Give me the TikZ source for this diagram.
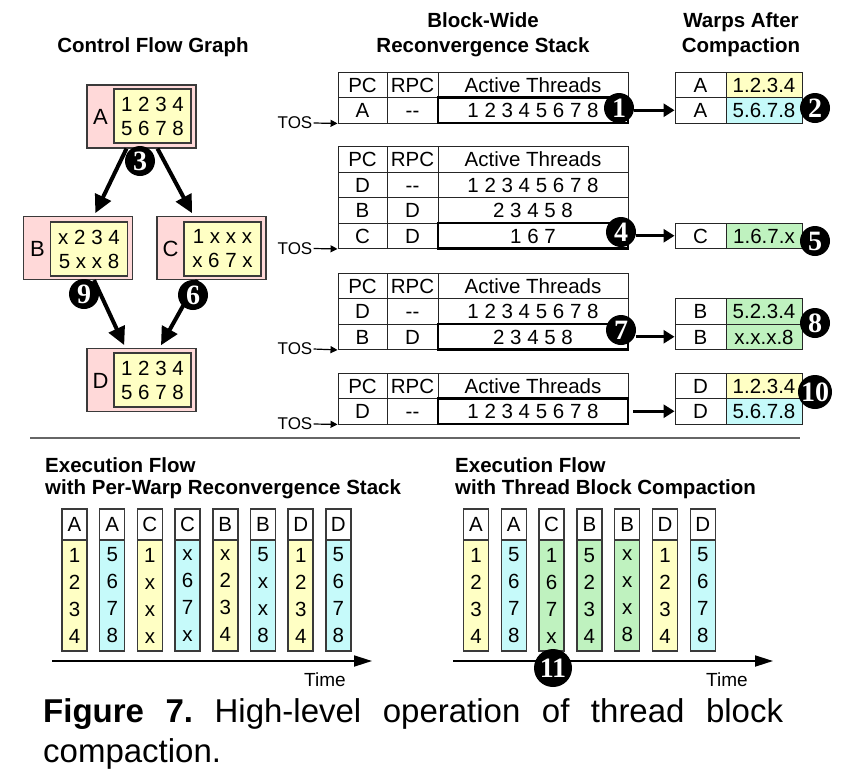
\documentclass[tikz,border=0pt]{standalone}
\usepackage{fontspec}
\setmainfont{Liberation Sans}
\newfontfamily\numfont{Liberation Serif}
\usetikzlibrary{arrows.meta}

\definecolor{cfgpink}{HTML}{FFD9D9}
\definecolor{warpyellow}{HTML}{FFFFC4}
\definecolor{warpcyan}{HTML}{C6FAFA}
\definecolor{warpgreen}{HTML}{BFF2BF}
\definecolor{boxline}{HTML}{3A3A3A}

\tikzset{
  heading/.style={font=\fontsize{20.5}{25}\selectfont\bfseries, align=center},
  tabtext/.style={font=\fontsize{20.5}{24}\selectfont},
  pccell/.style={draw=black!85, line width=0.9pt, tabtext, minimum width=49pt,
    minimum height=25.5pt, inner sep=0pt, text height=14.7pt, text depth=0pt},
  rpccell/.style={pccell, minimum width=51pt},
  actcell/.style={pccell, minimum width=190pt},
  tosrow/.style={line width=2.6pt, draw=black},
  wpccell/.style={pccell, minimum width=51pt},
  wdatcell/.style={pccell, minimum width=76pt},
  cfgblock/.style={draw=boxline, line width=1.2pt, fill=cfgpink,
    minimum width=109pt, minimum height=63pt},
  blockname/.style={font=\fontsize{22}{24}\selectfont, inner sep=0pt},
  threadbox/.style={draw=boxline, line width=1.2pt, fill=warpyellow, align=center,
    minimum width=77pt, minimum height=54pt, inner sep=0pt,
    font=\fontsize{20.5}{24}\selectfont},
  numdot/.style={circle, fill=black, text=white, inner sep=0pt, minimum size=30pt,
    font=\numfont\fontsize{28}{28}\selectfont\bfseries},
  tos/.style={font=\fontsize{17}{20}\selectfont, inner sep=1pt},
  tosarrow/.style={line width=1.2pt, -{Triangle[length=7pt,width=7pt]}},
  cfgarrow/.style={line width=4pt, -{Triangle[length=18pt,width=17pt]}, shorten >=3pt},
  warparrow/.style={line width=3pt, -{Triangle[length=11pt,width=13pt]}},
  colhead/.style={draw=boxline, line width=1.5pt, minimum width=25pt, minimum height=31pt,
    inner sep=0pt, tabtext},
  colbody/.style={colhead, minimum height=111pt, align=center,
    font=\fontsize{20.5}{27}\selectfont},
  timearrow/.style={line width=1.8pt, -{Triangle[length=18pt,width=11pt]}},
  timelabel/.style={font=\fontsize{19}{22}\selectfont},
  caption/.style={anchor=north west, text width=740pt, align=justify, inner sep=0pt,
    font=\fontsize{33}{40}\selectfont\frenchspacing}
}

\begin{document}
\begin{tikzpicture}[x=1pt,y=-1pt]
  \useasboundingbox (0,0) rectangle (855,780);

  % headings
  \node[heading] (cfgtitle) at (153,47) {Control Flow Graph};
  \node[heading] (stacktitle) at (483,35) {Block-Wide\\Reconvergence Stack};
  \node[heading] (warptitle) at (741,35) {Warps After\\Compaction};

  % control flow graph
  \node[cfgblock] (A) at (141.5,116.5) {};
  \node[blockname] (Aname) at (100.5,117) {A};
  \node[threadbox] (Athr) at (152.5,116) {1 2 3 4\\5 6 7 8};

  \node[cfgblock] (B) at (78,248) {};
  \node[blockname] (Bname) at (37.5,249) {B};
  \node[threadbox] (Bthr) at (89,249) {x 2 3 4\\5 x x 8};

  \node[cfgblock] (C) at (211.5,248) {};
  \node[blockname] (Cname) at (170.5,249) {C};
  \node[threadbox] (Cthr) at (222.5,249) {1 x x x\\x 6 7 x};

  \node[cfgblock] (D) at (141.5,380) {};
  \node[blockname] (Dname) at (100.5,381) {D};
  \node[threadbox] (Dthr) at (152.5,380) {1 2 3 4\\5 6 7 8};

  \path[draw,cfgarrow] ([xshift=-15pt]A.south) -- ([xshift=16pt]B.north);
  \path[draw,cfgarrow] ([xshift=16pt]A.south) -- ([xshift=-18pt]C.north);
  \path[draw,cfgarrow] ([xshift=16pt]B.south) -- ([xshift=-16pt]D.north);
  \path[draw,cfgarrow] ([xshift=-14pt]C.south) -- ([xshift=18pt]D.north);

  \node[numdot] (n3) at (140,161) {3};
  \node[numdot] (n9) at (84,294) {9};
  \node[numdot] (n6) at (193,295) {6};

  % stack headers
  \foreach \t/\y in {1/84.75, 2/159.25, 3/285.75, 4/385.75} {
    \node[pccell] (s\t pc) at (362.5,\y) {PC};
    \node[rpccell] (s\t rpc) at (412.5,\y) {RPC};
    \node[actcell] (s\t act) at (533,\y) {Active Threads};
  }

  % stack 1
  \node[pccell] (s1r1pc) at (362.5,110.25) {A};
  \node[rpccell] (s1r1rpc) at (412.5,110.25) {-{}-};
  \node[actcell,tosrow] (s1r1act) at (533,110.25) {1 2 3 4 5 6 7 8};

  % stack 2
  \foreach \pc/\rpc/\act [count=\i] in {D/-{}-/1 2 3 4 5 6 7 8, B/D/2 3 4 5 8, C/D/1 6 7} {
    \node[pccell] (s2r\i pc) at (362.5,{159.25+25.5*\i}) {\pc};
    \node[rpccell] (s2r\i rpc) at (412.5,{159.25+25.5*\i}) {\rpc};
    \node[actcell] (s2r\i act) at (533,{159.25+25.5*\i}) {\act};
  }
  \node[actcell,tosrow] (s2top) at (s2r3act) {};

  % stack 3
  \foreach \pc/\rpc/\act [count=\i] in {D/-{}-/1 2 3 4 5 6 7 8, B/D/2 3 4 5 8} {
    \node[pccell] (s3r\i pc) at (362.5,{285.75+25.5*\i}) {\pc};
    \node[rpccell] (s3r\i rpc) at (412.5,{285.75+25.5*\i}) {\rpc};
    \node[actcell] (s3r\i act) at (533,{285.75+25.5*\i}) {\act};
  }
  \node[actcell,tosrow] (s3top) at (s3r2act) {};

  % stack 4
  \node[pccell] (s4r1pc) at (362.5,411.25) {D};
  \node[rpccell] (s4r1rpc) at (412.5,411.25) {-{}-};
  \node[actcell,tosrow] (s4r1act) at (533,411.25) {1 2 3 4 5 6 7 8};

  % top of stack pointers
  \node[tos] (tos1) at (295,123) {TOS};
  \node[tos] (tos2) at (295,248.5) {TOS};
  \node[tos] (tos3) at (295,349) {TOS};
  \node[tos] (tos4) at (295,424) {TOS};
  \path[draw,tosarrow] (tos1.east) -- (s1r1pc.south west);
  \path[draw,tosarrow] (tos2.east) -- (s2r3pc.south west);
  \path[draw,tosarrow] (tos3.east) -- (s3r2pc.south west);
  \path[draw,tosarrow] (tos4.east) -- (s4r1pc.south west);

  % warps after compaction
  \node[wpccell] (w1r1pc) at (700.5,84.75) {A};
  \node[wdatcell,fill=warpyellow] (w1r1dat) at (764,84.75) {1.2.3.4};
  \node[wpccell] (w1r2pc) at (700.5,110.25) {A};
  \node[wdatcell,fill=warpcyan] (w1r2dat) at (764,110.25) {5.6.7.8};

  \node[wpccell] (w2r1pc) at (700.5,235.75) {C};
  \node[wdatcell,fill=warpgreen] (w2r1dat) at (764,235.75) {1.6.7.x};

  \node[wpccell] (w3r1pc) at (700.5,311.25) {B};
  \node[wdatcell,fill=warpgreen] (w3r1dat) at (764,311.25) {5.2.3.4};
  \node[wpccell] (w3r2pc) at (700.5,336.75) {B};
  \node[wdatcell,fill=warpgreen] (w3r2dat) at (764,336.75) {x.x.x.8};

  \node[wpccell] (w4r1pc) at (700.5,385.75) {D};
  \node[wdatcell,fill=warpyellow] (w4r1dat) at (764,385.75) {1.2.3.4};
  \node[wpccell] (w4r2pc) at (700.5,411.25) {D};
  \node[wdatcell,fill=warpcyan] (w4r2dat) at (764,411.25) {5.6.7.8};

  % steps
  \node[numdot] (n1) at (619,108) {1};
  \node[numdot] (n2) at (815,108) {2};
  \node[numdot] (n4) at (621,232) {4};
  \node[numdot] (n5) at (815,241) {5};
  \node[numdot] (n7) at (621,330) {7};
  \node[numdot] (n8) at (815,323) {8};
  \node[numdot,minimum size=34pt] (n10) at (815,392) {10};

  \path[draw,warparrow] (n1.east |- w1r2pc.west) -- (w1r2pc.west);
  \path[draw,warparrow] (n4.east |- w2r1pc.west) -- (w2r1pc.west);
  \path[draw,warparrow] (n7.east |- w3r2pc.west) -- (w3r2pc.west);
  \path[draw,warparrow] ([xshift=4pt]s4r1act.east) -- (w4r2pc.west);

  % separator
  \draw[line width=1.8pt, black!60] (30,438) -- (800,438);

  % execution flow, per-warp stack
  \node[heading, align=left, anchor=west, inner sep=0pt, font=\fontsize{20.5}{22}\selectfont\bfseries]
    (pwtitle) at (45,478) {Execution Flow\\with Per-Warp Reconvergence Stack};
  \foreach \pc/\a/\b/\c/\d/\fillc [count=\i] in {A/1/2/3/4/warpyellow, A/5/6/7/8/warpcyan,
      C/1/x/x/x/warpyellow, C/x/6/7/x/warpcyan, B/x/2/3/4/warpyellow, B/5/x/x/8/warpcyan,
      D/1/2/3/4/warpyellow, D/5/6/7/8/warpcyan} {
    \node[colhead] (lh\i) at ({74.5+37.7*(\i-1)},524.5) {\pc};
    \node[colbody,fill=\fillc] (lb\i) at ({74.5+37.7*(\i-1)},595.5) {\a\\\b\\\c\\\d};
  }
  \coordinate (lt0) at (52,661);
  \coordinate (lt1) at (372,661);
  \path[draw,timearrow] (lt0) -- (lt1);
  \node[timelabel] (ltime) at (325,680) {Time};

  % execution flow, thread block compaction
  \node[heading, align=left, anchor=west, inner sep=0pt, font=\fontsize{20.5}{22}\selectfont\bfseries]
    (tbtitle) at (455,478) {Execution Flow\\with Thread Block Compaction};
  \foreach \pc/\a/\b/\c/\d/\fillc [count=\i] in {A/1/2/3/4/warpyellow, A/5/6/7/8/warpcyan,
      C/1/6/7/x/warpgreen, B/5/2/3/4/warpgreen, B/x/x/x/8/warpgreen,
      D/1/2/3/4/warpyellow, D/5/6/7/8/warpcyan} {
    \node[colhead] (rh\i) at ({476+37.8*(\i-1)},524.5) {\pc};
    \node[colbody,fill=\fillc] (rb\i) at ({476+37.8*(\i-1)},595.5) {\a\\\b\\\c\\\d};
  }
  \coordinate (rt0) at (453,661);
  \coordinate (rt1) at (773,661);
  \path[draw,timearrow] (rt0) -- (rt1);
  \node[timelabel] (rtime) at (727,680) {Time};
  \node[numdot,minimum size=38pt] (n11) at (553,668) {11};

  % caption
  \node[caption] (cap) at (43,698)
    {\textbf{Figure 7.} High-level operation of thread block \mbox{compaction.}};
\end{tikzpicture}
\end{document}
